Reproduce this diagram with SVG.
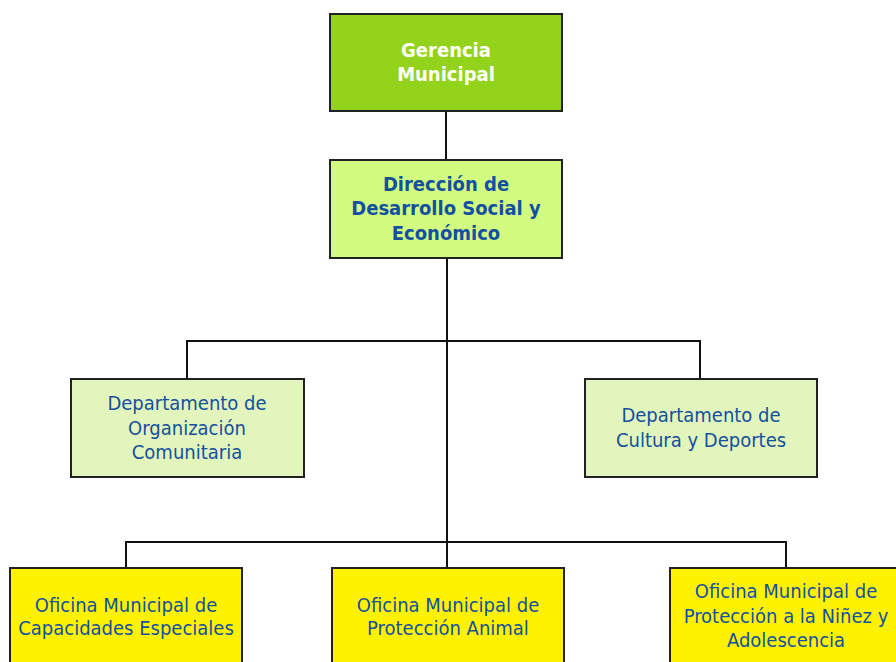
<svg xmlns="http://www.w3.org/2000/svg" width="896" height="662" viewBox="0 0 896 662">
<style>
.box{stroke:#222;stroke-width:2}
.g1{fill:#93D31B}
.g2{fill:#D2FC80}
.g3{fill:#E2F5BC}
.y{fill:#FFF200}
text{font-family:"DejaVu Sans Condensed","DejaVu Sans","Liberation Sans",sans-serif;font-stretch:condensed;text-anchor:middle;font-size:20px;fill:#14509F}
.b{font-weight:bold;font-size:20px}
.w{fill:#fff}
.c{stroke:#111;stroke-width:2;fill:none}
</style>
<rect width="896" height="662" fill="#fff"/>
<g id="connectors">
<path class="c" d="M446 111V160M447 258V568M187 379V341H700V379M126 568V542H786V568"/>
</g>
<g id="gerencia">
<rect class="box g1" x="330" y="14" width="232" height="97"/>
<text class="b w" x="446" y="57">Gerencia</text>
<text class="b w" x="446" y="81">Municipal</text>
</g>
<g id="direccion">
<rect class="box g2" x="330" y="160" width="232" height="98"/>
<text class="b" x="446" y="191">Dirección de</text>
<text class="b" x="446" y="215">Desarrollo Social y</text>
<text class="b" x="446" y="240">Económico</text>
</g>
<g id="dep-org">
<rect class="box g3" x="71" y="379" width="233" height="98"/>
<text x="187" y="410">Departamento de</text>
<text x="187" y="435">Organización</text>
<text x="187" y="459">Comunitaria</text>
</g>
<g id="dep-cult">
<rect class="box g3" x="585" y="379" width="232" height="98"/>
<text x="701" y="422">Departamento de</text>
<text x="701" y="447">Cultura y Deportes</text>
</g>
<g id="of-cap">
<rect class="box y" x="10" y="568" width="232" height="100"/>
<text x="126" y="612">Oficina Municipal de</text>
<text x="126" y="635">Capacidades Especiales</text>
</g>
<g id="of-animal">
<rect class="box y" x="332" y="568" width="232" height="100"/>
<text x="448" y="612">Oficina Municipal de</text>
<text x="448" y="635">Protección Animal</text>
</g>
<g id="of-ninez">
<rect class="box y" x="670" y="568" width="232" height="100"/>
<text x="786" y="598">Oficina Municipal de</text>
<text x="786" y="623">Protección a la Niñez y</text>
<text x="786" y="647">Adolescencia</text>
</g>
</svg>
